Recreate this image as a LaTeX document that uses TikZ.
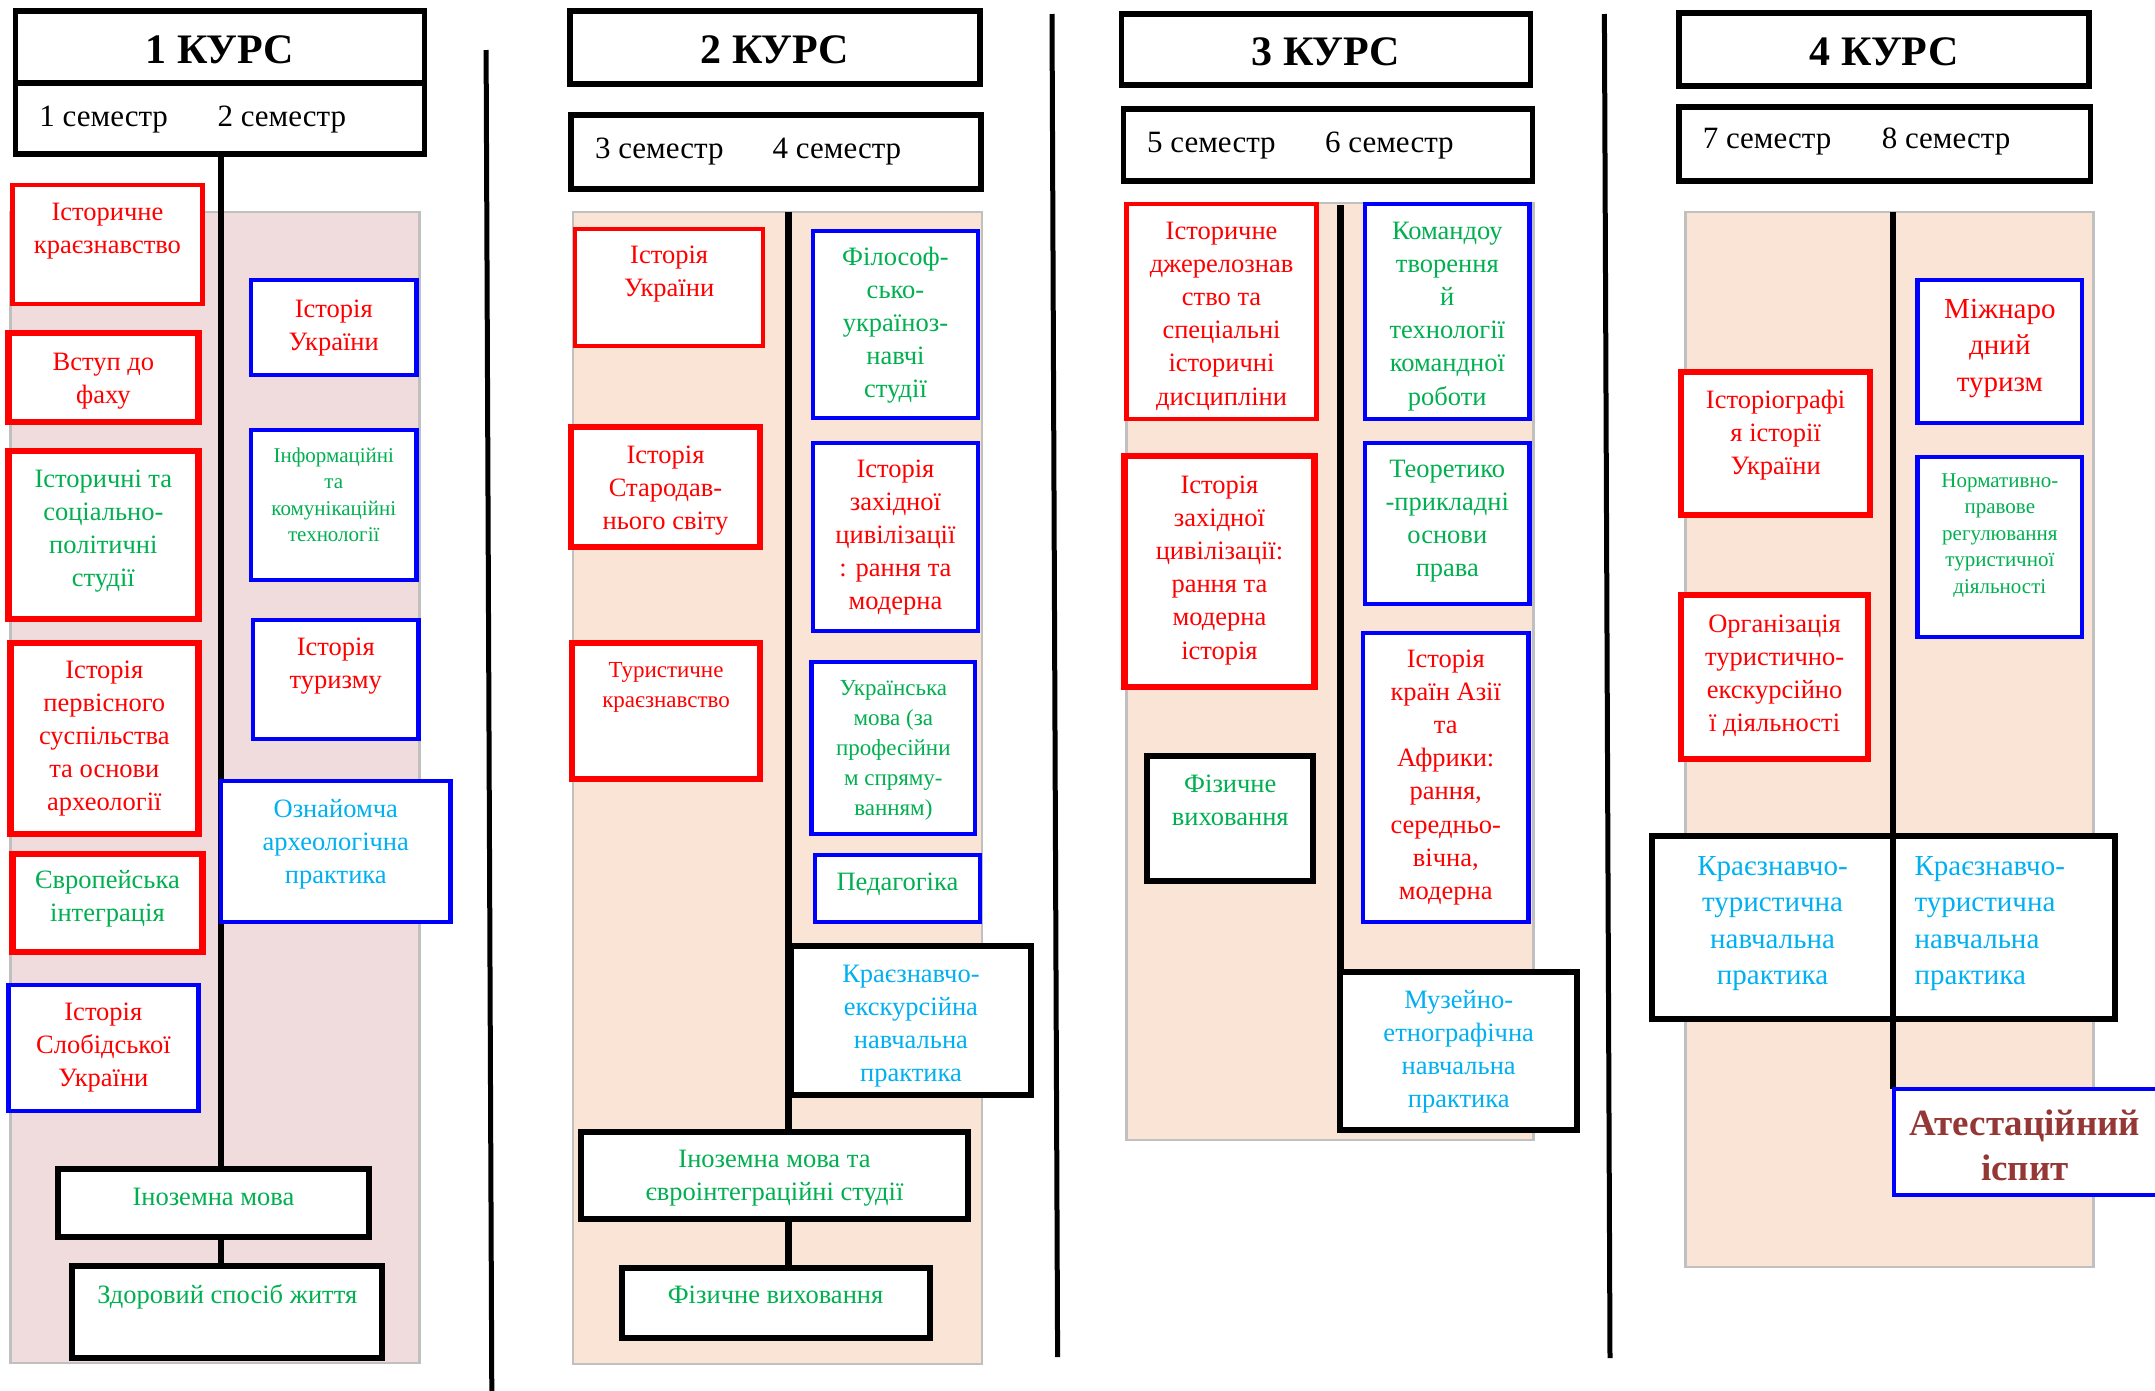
\documentclass[tikz,border=0pt]{standalone}
\usepackage{fontspec}
\setmainfont{Liberation Serif}
\usetikzlibrary{calc}
\definecolor{cgreen}{HTML}{00B050}
\definecolor{clblue}{HTML}{00B0F0}
\definecolor{cdred}{HTML}{953735}
\definecolor{cpink}{RGB}{240,220,220}
\definecolor{cpeach}{RGB}{250,228,214}
\definecolor{cgray}{HTML}{C0C0C0}
\pgfdeclarelayer{bg}
\pgfsetlayers{bg,main}
% name, style, x1, y1, x2, y2, first baseline y, text
\newcommand\tbox[8]{%
  \pgfmathsetmacro\tbw{#5-#3}%
  \pgfmathsetmacro\tbh{#6-#4}%
  \pgfmathsetmacro\tbp{#7-#4}%
  \pgfmathsetmacro\tbx{(#3+#5)/2}%
  \pgfmathsetmacro\tby{(#4+#6)/2}%
  \node[#2, minimum width=\tbw pt, minimum height=\tbh pt, inner sep=0pt, outer sep=0pt] (#1) at (\tbx,\tby)
   {\parbox[c][\tbh pt][t]{\tbw pt}{\centering\hyphenpenalty=10000\exhyphenpenalty=10000\tolerance=10000
    \vspace{\dimexpr\tbp pt-0.7\baselineskip\relax}\strut #8\par}};%
}
\tikzset{
  fA/.style={font=\fontsize{26.5}{33.2}\selectfont},
  fS/.style={font=\fontsize{21}{26.5}\selectfont},
  fM/.style={font=\fontsize{23}{30}\selectfont},
  fL/.style={font=\fontsize{29}{36.5}\selectfont},
  fH/.style={font=\fontsize{42}{50}\selectfont\bfseries},
  fSem/.style={font=\fontsize{31}{37}\selectfont},
  fAtt/.style={font=\fontsize{37}{45}\selectfont\bfseries},
  rbox/.style={draw=red,line width=4.5pt,fill=white},
  rboxx/.style={draw=red,line width=6.5pt,fill=white},
  bbox/.style={draw=blue,line width=4.5pt,fill=white},
  kbox/.style={draw=black,line width=6pt,fill=white},
  hbox/.style={draw=black,line width=5.5pt,fill=white},
  tr/.style={text=red},
  tg/.style={text=cgreen},
  tb/.style={text=clblue},
  vline/.style={draw=black,line width=6.5pt},
  sepline/.style={draw=black,line width=5pt},
  bgpink/.style={fill=cpink,draw=cgray,line width=2.5pt},
  bgpeach/.style={fill=cpeach,draw=cgray,line width=2.5pt},
}
\begin{document}
\begin{tikzpicture}[x=1pt,y=-1pt]
\useasboundingbox (0,0) rectangle (2155,1390);

% ---------- headers ----------
\tbox{k1}{hbox,fH}{15.5}{11}{424.6}{83}{63}{1 КУРС}
\tbox{s1}{hbox,fSem}{15.5}{83}{424.6}{154}{126}{\raggedright\hspace*{24pt}\makebox[178pt][l]{1 семестр}2 семестр}
\tbox{k2}{hbox,fH}{570}{11}{980.1}{84}{63}{2 КУРС}
\tbox{s2}{hbox,fSem}{571}{115}{981.2}{189}{158}{\raggedright\hspace*{24pt}\makebox[177.7pt][l]{3 семестр}4 семестр}
\tbox{k3}{hbox,fH}{1121.3}{14}{1530.5}{85}{65}{3 КУРС}
\tbox{s3}{hbox,fSem}{1123.4}{109}{1532.6}{181}{152}{\raggedright\hspace*{23.8pt}\makebox[178pt][l]{5 семестр}6 семестр}
\tbox{k4}{hbox,fH}{1679.1}{13}{2089.2}{86}{65}{4 КУРС}
\tbox{s4}{hbox,fSem}{1679.1}{107}{2090.3}{181}{148}{\raggedright\hspace*{23.7pt}\makebox[179pt][l]{7 семестр}8 семестр}

% ---------- 1 course ----------
\tbox{a1}{rbox,fA,tr}{12.4}{185}{202.5}{304}{220}{Історичне\\краєзнавство}
\tbox{a2}{rboxx,fA,tr}{8.3}{333}{198.4}{422}{370}{Вступ до\\фаху}
\tbox{a3}{rboxx,fA,tg}{8.3}{451}{198.4}{619}{487}{Історичні та\\соціально-\\політичні\\студії}
\tbox{a4}{rboxx,fA,tr}{10.3}{643}{198.4}{834}{678}{Історія\\первісного\\суспільства\\та основи\\археології}
\tbox{a5}{rboxx,fA,tg}{12.4}{854}{202.5}{952}{888}{Європейська\\інтеграція}
\tbox{a6}{bbox,fA,tr}{8.3}{985}{198.4}{1111}{1020}{Історія\\Слобідської\\України}
\tbox{b1}{bbox,fA,tr}{251.1}{280}{416.4}{375}{317}{Історія\\України}
\tbox{b2}{bbox,fS,tg}{251.1}{430}{416.4}{580}{462}{Інформаційні\\та\\комунікаційні\\технології}
\tbox{b3}{bbox,fA,tr}{253.1}{620}{418.4}{739}{655}{Історія\\туризму}
\tbox{b4}{bbox,fA,tb}{221.1}{781}{450.5}{922}{817}{Ознайомча\\археологічна\\практика}
\tbox{i1}{kbox,fA,tg}{57.9}{1169}{368.9}{1237}{1205}{Іноземна мова}
\tbox{z1}{kbox,fA,tg}{72.3}{1266}{382.3}{1358}{1303}{Здоровий спосіб життя}

% ---------- 2 course ----------
\tbox{c1}{rbox,fA,tr}{575.1}{229}{763.2}{346}{263}{Історія\\України}
\tbox{c2}{rboxx,fA,tr}{571}{427}{760.1}{547}{463}{Історія\\Стародав-\\нього світу}
\tbox{c3}{rboxx,fM,tr}{572}{643}{760.1}{779}{677}{Туристичне\\краєзнавство}
\tbox{d1}{bbox,fA,tg}{812.8}{231}{978.1}{418}{265}{Філософ-\\сько-\\україноз-\\навчі\\студії}
\tbox{d2}{bbox,fA,tr}{812.8}{443}{978.1}{631}{477}{Історія\\західної\\цивілізації\\: рання та\\модерна}
\tbox{d3}{bbox,fM,tg}{811.7}{662}{975}{834}{695}{Українська\\мова (за\\професійни\\м спряму-\\ванням)}
\tbox{d4}{bbox,fA,tg}{814.8}{855}{980.1}{922}{890}{Педагогіка}
\tbox{e1}{kbox,fA,tb}{791.1}{946}{1030.8}{1095}{982}{Краєзнавчо-\\екскурсійна\\навчальна\\практика}
\tbox{i2}{kbox,fA,tg}{581.3}{1132}{967.7}{1219}{1167}{Іноземна мова та\\євроінтеграційні студії}
\tbox{f2}{kbox,fA,tg}{621.6}{1268}{929.5}{1338}{1303}{Фізичне виховання}

% ---------- 3 course ----------
\tbox{g1}{rbox,fA,tr}{1126.5}{204}{1316.6}{419}{239}{Історичне\\джерелознав\\ство та\\спеціальні\\історичні\\дисципліни}
\tbox{g2}{rboxx,fA,tr}{1124.4}{456}{1314.5}{687}{493}{Історія\\західної\\цивілізації:\\рання та\\модерна\\історія}
\tbox{g3}{kbox,fA,tg}{1147.2}{756}{1313.4}{881}{792}{Фізичне\\виховання}
\tbox{h1}{bbox,fA,tg}{1365.2}{204}{1529.4}{419}{239}{Командоу\\творення\\й\\технології\\командної\\роботи}
\tbox{h2}{bbox,fA,tg}{1365.2}{443}{1529.4}{604}{477}{Теоретико\\-прикладні\\основи\\права}
\tbox{h3}{bbox,fA,tr}{1363.1}{633}{1528.4}{922}{667}{Історія\\країн Азії\\та\\Африки:\\рання,\\середньо-\\вічна,\\модерна}
\tbox{m1}{kbox,fA,tb}{1340.4}{972}{1577}{1130}{1008}{Музейно-\\етнографічна\\навчальна\\практика}

% ---------- 4 course ----------
\tbox{n1}{rboxx,fA,tr}{1681.1}{372}{1870.2}{515}{408}{Історіографі\\я історії\\України}
\tbox{n2}{rboxx,fA,tr}{1681.1}{595}{1868.1}{759}{632}{Організація\\туристично-\\екскурсійно\\ї діяльності}
\tbox{o1}{bbox,fL,tr}{1917.7}{280}{2082}{423}{318}{Міжнаро\\дний\\туризм}
\tbox{o2}{bbox,fS,tg}{1917.7}{457}{2082}{637}{487}{Нормативно-\\правове\\регулювання\\туристичної\\діяльності}
\tbox{p1}{kbox,fL,tb}{1652.2}{836}{1892.9}{1019}{875}{Краєзнавчо-\\туристична\\навчальна\\практика}
\tbox{p2}{kbox,fL,tb}{1892.9}{836}{2115.1}{1019}{875}{\raggedright\leftskip=21.7pt\relax Краєзнавчо-\\туристична\\навчальна\\практика}
\tbox{att}{bbox,fAtt,text=cdred}{1894}{1089}{2175}{1195}{1135}{\rightskip=0pt plus 1fil\leftskip=0pt plus 1fil\relax\hskip-19pt Атестаційний\\\hspace*{-19pt}іспит}

% ---------- background layer ----------
\coordinate (c1top) at (221.1,155);
\coordinate (c2top) at (788.5,212);
\coordinate (c3top) at (1340.4,205);
\coordinate (c4top) at (1892.9,212);
\coordinate (sa1) at (486.1,50);  \coordinate (sb1) at (491.8,1392);
\coordinate (sa2) at (1052,14);   \coordinate (sb2) at (1057.6,1357);
\coordinate (sa3) at (1604.4,14); \coordinate (sb3) at (1610,1358);
\begin{pgfonlayer}{bg}
  \path[bgpink]  (10.3,212) rectangle (419.5,1363);
  \path[bgpeach] (573.1,212) rectangle (982.2,1364);
  \path[bgpeach] (1126.5,203) rectangle (1533.6,1140);
  \path[bgpeach] (1685.3,212) rectangle (2093.4,1267);
  \draw[sepline] (sa1) -- (sb1);
  \draw[sepline] (sa2) -- (sb2);
  \draw[sepline] (sa3) -- (sb3);
  \draw[vline] (c1top) -- (c1top |- i1.north);
  \draw[vline] (c1top |- i1.south) -- (c1top |- z1.north);
  \draw[vline] (c2top) -- (c2top |- i2.north);
  \draw[vline] (c2top |- i2.south) -- (c2top |- f2.north);
  \draw[vline] (c3top) -- (c3top |- m1.north);
  \draw[vline] (c4top) -- (c4top |- p1.north);
  \draw[vline] (c4top |- p1.south) -- (c4top |- att.north);
\end{pgfonlayer}
\end{tikzpicture}
\end{document}
